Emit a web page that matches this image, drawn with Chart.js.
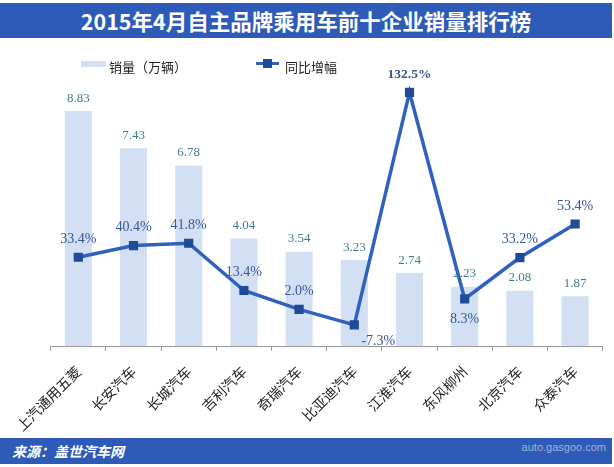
<!DOCTYPE html>
<html>
<head>
<meta charset="utf-8">
<script src="https://cdn.jsdelivr.net/npm/chart.js@4.4.1/dist/chart.umd.min.js"></script>
<style>
  html, body { margin: 0; padding: 0; background: #fff; }
  #wrap { position: relative; width: 614px; height: 467px; background: #fff; overflow: hidden; }
  #wrap canvas { position: absolute; left: 0; top: 0; }
  .bar-band { position: absolute; left: 0; width: 612px; background: #2d5bb7; color: #fff; display: flex; align-items: center; }
  #title { top: 3px; height: 35px; justify-content: center; font: bold 21.5px "Noto Sans CJK SC", sans-serif; }
  #footer { top: 438px; height: 26px; padding-left: 12px; box-sizing: border-box; font: italic bold 14px "Noto Sans CJK SC", sans-serif; }
  #mark { position: absolute; right: 8px; top: 441px; font: 11px Arial, "Liberation Sans", sans-serif; color: rgba(200,210,230,0.75); }
  .lg { position: absolute; font: 13px "Noto Sans CJK SC", sans-serif; color: #222; line-height: 14px; }
</style>
</head>
<body>
<div id="wrap">
  <div id="title" class="bar-band">2015年4月自主品牌乘用车前十企业销量排行榜</div>
  <canvas id="chart" width="614" height="467"></canvas>
  <!-- legend -->
  <div style="position:absolute;left:81px;top:61px;width:25px;height:6px;background:#d3dff2"></div>
  <div class="lg" style="left:109px;top:60px">销量（万辆）</div>
  <div style="position:absolute;left:256px;top:62px;width:23px;height:3px;background:#3061bf"></div>
  <div style="position:absolute;left:263px;top:59px;width:9px;height:9px;background:#1f4b98"></div>
  <div class="lg" style="left:285px;top:60px">同比增幅</div>
  <div id="footer" class="bar-band">来源：盖世汽车网</div>
  <div id="mark">auto.gasgoo.com</div>
</div>
<script>
// ── Data ──
const brands = ['上汽通用五菱', '长安汽车', '长城汽车', '吉利汽车', '奇瑞汽车', '比亚迪汽车', '江淮汽车', '东风柳州', '北京汽车', '众泰汽车']
const sales = [8.83, 7.43, 6.78, 4.04, 3.54, 3.23, 2.74, 2.23, 2.08, 1.87]      // 万辆
const growth = [33.4, 40.4, 41.8, 13.4, 2.0, -7.3, 132.5, 8.3, 33.2, 53.4]     // %

// labels placed under the point instead of above
const growthBelow = [5, 7]

// ── Value labels ──
const valueLabels = {
  id: 'valueLabels',
  afterDatasetsDraw (chart) {
    const ctx = chart.ctx
    ctx.save()
    ctx.textAlign = 'center'
    ctx.textBaseline = 'middle'

    const barMeta = chart.getDatasetMeta(0)
    ctx.font = '13px "Liberation Serif", serif'
    ctx.fillStyle = '#3f7d8e'
    barMeta.data.forEach((el, i) => {
      ctx.fillText(sales[i].toFixed(2), el.x, el.y - 13)
    })

    const lineMeta = chart.getDatasetMeta(1)
    ctx.fillStyle = '#36589b'
    lineMeta.data.forEach((el, i) => {
      const v = growth[i]
      ctx.font = (v > 100 ? 'bold 13.5px' : '14px') + ' "Liberation Serif", serif'
      const below = growthBelow.includes(i)
      const dx = v < 0 ? 24 : 0
      const dy = below ? (v < 0 ? 16 : 20) : -18
      ctx.fillText(v.toFixed(1) + '%', el.x + dx, el.y + dy)
    })
    ctx.restore()
  }
}

new Chart(document.getElementById('chart'), {
  data: {
    labels: brands,
    datasets: [
      {
        type: 'bar',
        label: '销量（万辆）',
        data: sales,
        yAxisID: 'y',
        backgroundColor: '#d3dff2',
        categoryPercentage: 1,
        barPercentage: 0.49,
        order: 1
      },
      {
        type: 'line',
        label: '同比增幅',
        data: growth,
        yAxisID: 'y1',
        borderColor: '#3061bf',
        borderWidth: 3.5,
        pointStyle: 'rect',
        pointRadius: 6.5,
        pointBackgroundColor: '#1f4b98',
        pointBorderColor: '#1f4b98',
        pointBorderWidth: 0,
        tension: 0,
        order: 0
      }
    ]
  },
  options: {
    responsive: false,
    animation: false,
    devicePixelRatio: 1,
    layout: { padding: { left: 50.7, right: 11.3, top: 80, bottom: 0 } },
    plugins: { legend: { display: false }, tooltip: { enabled: false } },
    scales: {
      x: {
        grid: { offset: true, drawOnChartArea: false, drawTicks: true, tickLength: 5, color: '#9a9a9a' },
        border: { display: true, color: '#9a9a9a' },
        ticks: {
          minRotation: 45, maxRotation: 45, padding: 12, autoSkip: false,
          color: '#222', font: { family: '"Noto Sans CJK SC", sans-serif', size: 14 }
        },
        afterFit: s => { s.height = 467 - 346 }
      },
      y: { display: false, min: 0, max: 10 },
      y1: { display: false, min: -20, max: 140 }
    }
  },
  plugins: [valueLabels]
})
</script>
</body>
</html>
